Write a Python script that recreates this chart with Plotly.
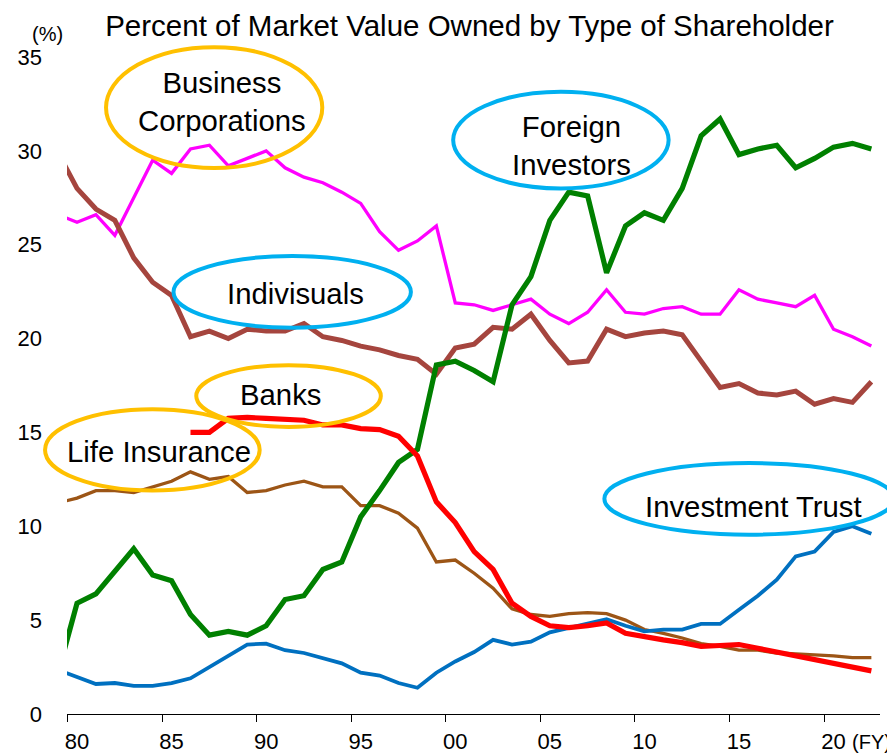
"""Percent of market value owned by type of shareholder (FY1979-FY2022)."""

import plotly.graph_objects as go

FONT = "Liberation Sans, Arial, sans-serif"

fiscal_years = list(range(1979, 2023))
bank_years = list(range(1986, 2023))

business_corporations = [
    26.6, 26.2, 26.6, 25.5, 27.5, 29.5, 28.8, 30.1, 30.3, 29.2, 29.6,
    30.0, 29.1, 28.6, 28.3, 27.8, 27.2, 25.7, 24.7, 25.2, 26.0,
    21.9, 21.8, 21.5, 21.8, 22.1, 21.3, 20.8, 21.4, 22.6, 21.4,
    21.3, 21.6, 21.7, 21.3, 21.3, 22.6, 22.1, 21.9, 21.7, 22.3,
    20.5, 20.1, 19.6,
]
individuals = [
    29.9, 28.0, 26.9, 26.3, 24.3, 23.0, 22.3, 20.1, 20.4, 20.0, 20.5,
    20.4, 20.4, 20.8, 20.1, 19.9, 19.6, 19.4, 19.1, 18.9, 18.1,
    19.5, 19.7, 20.6, 20.5, 21.3, 19.9, 18.7, 18.8, 20.5, 20.1,
    20.3, 20.4, 20.2, 18.8, 17.4, 17.6, 17.1, 17.0, 17.2, 16.5,
    16.8, 16.6, 17.7,
]
foreign_investors = [
    2.2, 5.9, 6.4, 7.6, 8.8, 7.4, 7.1, 5.3, 4.2, 4.4, 4.2,
    4.7, 6.1, 6.3, 7.7, 8.1, 10.5, 11.9, 13.4, 14.1, 18.6,
    18.8, 18.3, 17.7, 21.8, 23.3, 26.3, 27.8, 27.6, 23.5, 26.0,
    26.7, 26.3, 28.0, 30.8, 31.7, 29.8, 30.1, 30.3, 29.1, 29.6,
    30.2, 30.4, 30.1,
]
life_insurance = [
    11.25, 11.5, 11.9, 11.9, 11.8, 12.1, 12.4, 12.9, 12.5, 12.65, 11.8,
    11.9, 12.2, 12.4, 12.1, 12.1, 11.1, 11.1, 10.7, 9.9, 8.1,
    8.2, 7.5, 6.7, 5.6, 5.3, 5.2, 5.35, 5.4, 5.35, 5.0,
    4.5, 4.3, 4.05, 3.75, 3.6, 3.4, 3.4, 3.25, 3.2, 3.15,
    3.1, 3.0, 3.0,
]
investment_trust = [
    2.35, 2.0, 1.6, 1.65, 1.5, 1.5, 1.65, 1.9, 2.5, 3.1, 3.7,
    3.75, 3.4, 3.25, 3.0, 2.7, 2.2, 2.05, 1.65, 1.4, 2.2,
    2.8, 3.3, 3.95, 3.7, 3.85, 4.35, 4.6, 4.85, 5.05, 4.7,
    4.4, 4.5, 4.5, 4.8, 4.8, 5.55, 6.3, 7.15, 8.4, 8.65,
    9.7, 10.0, 9.6,
]
banks = [
    15.0, 15.0, 15.75, 15.8, 15.75, 15.7, 15.65, 15.4, 15.4, 15.2, 15.15,
    14.8, 13.75, 11.3, 10.2, 8.65, 7.7, 5.9, 5.2, 4.7, 4.6,
    4.7, 4.85, 4.3, 4.1, 3.95, 3.8, 3.6, 3.65, 3.7, 3.5,
    3.3, 3.1, 2.9, 2.7, 2.5, 2.3,
]

tick_years = list(range(1980, 2021, 5))
tick_text = ["80", "85", "90", "95", "00", "05", "10", "15", "20"]

ORANGE = "#FFC000"
SKY = "#00B0F0"

fig = go.Figure()
series = [
    (fiscal_years, business_corporations, "Business Corporations", "#FF00FF", 3.3),
    (fiscal_years, life_insurance, "Life Insurance", "#9C5516", 3.3),
    (fiscal_years, investment_trust, "Investment Trust", "#0070C0", 3.8),
    (fiscal_years, individuals, "Individuals", "#A5453E", 5),
    (fiscal_years, foreign_investors, "Foreign Investors", "#008000", 5.2),
    (bank_years, banks, "Banks", "#FF0000", 5.2),
]
for xs, ys, name, color, width in series:
    fig.add_trace(
        go.Scatter(
            x=xs, y=ys, name=name, mode="lines",
            line=dict(color=color, width=width),
            hovertemplate="FY%{x}: %{y:.1f}%<extra>" + name + "</extra>",
        )
    )

# callout ellipses with their labels (paper coords of the plot area)
callouts = [
    ("Business<br>Corporations", ORANGE, (0.048, 0.314, 0.831, 1.015), (0.191, 0.933)),
    ("Foreign<br>Investors", SKY, (0.475, 0.740, 0.800, 0.947), (0.620, 0.866)),
    ("Indivisuals", SKY, (0.131, 0.423, 0.588, 0.697), (0.281, 0.640)),
    ("Banks", ORANGE, (0.159, 0.386, 0.437, 0.531), (0.263, 0.486)),
    ("Life Insurance", ORANGE, (-0.027, 0.237, 0.340, 0.464), (0.113, 0.399)),
    ("Investment Trust", SKY, (0.661, 1.017, 0.273, 0.382), (0.844, 0.316)),
]
for text, color, (x0, x1, y0, y1), (tx, ty) in callouts:
    fig.add_shape(
        type="circle", xref="paper", yref="paper",
        x0=x0, x1=x1, y0=y0, y1=y1,
        line=dict(color=color, width=4),
    )
    fig.add_annotation(
        text=text, xref="paper", yref="paper", x=tx, y=ty,
        xanchor="center", yanchor="middle", showarrow=False,
        font=dict(size=29.3, color="#000000", family=FONT),
    )

fig.add_annotation(
    text="(%)", xref="paper", yref="paper", x=-0.024, y=1.035,
    xanchor="center", yanchor="middle", showarrow=False,
    font=dict(size=20, color="#000000", family=FONT),
)
fig.add_annotation(
    text="(FY)", xref="paper", yref="paper", x=0.990, y=-0.042,
    xanchor="center", yanchor="middle", showarrow=False,
    font=dict(size=20, color="#000000", family=FONT),
)

# the page body adds an 8px margin, so the figure is 8px smaller than the window
fig.update_layout(
    title=dict(
        text="Percent of Market Value Owned by Type of Shareholder",
        x=0.5203, y=0.9759, xanchor="center", yanchor="middle",
        font=dict(size=29.5, color="#000000", family=FONT),
    ),
    width=887, height=746,
    margin=dict(l=58.7, r=15, t=48.7, b=39.7),
    paper_bgcolor="white", plot_bgcolor="white",
    showlegend=False,
    font=dict(family=FONT, color="#000000"),
    xaxis=dict(
        range=[1979.471, 2022.457], automargin=False,
        tickvals=tick_years, ticktext=tick_text,
        ticks="", ticklabelstandoff=8,
        minor=dict(
            tickvals=[y - 0.5 for y in tick_years],
            ticks="outside", ticklen=7, tickcolor="#000000", tickwidth=1,
        ),
        showline=True, linecolor="#000000", linewidth=1,
        showgrid=False, zeroline=False,
        tickfont=dict(size=22, color="#000000"),
    ),
    yaxis=dict(
        range=[0, 35], tickvals=list(range(0, 36, 5)), automargin=False,
        ticks="", ticklabelstandoff=24,
        showline=False, showgrid=False, zeroline=False,
        tickfont=dict(size=22, color="#000000"),
    ),
)

fig.write_html("out.html")
